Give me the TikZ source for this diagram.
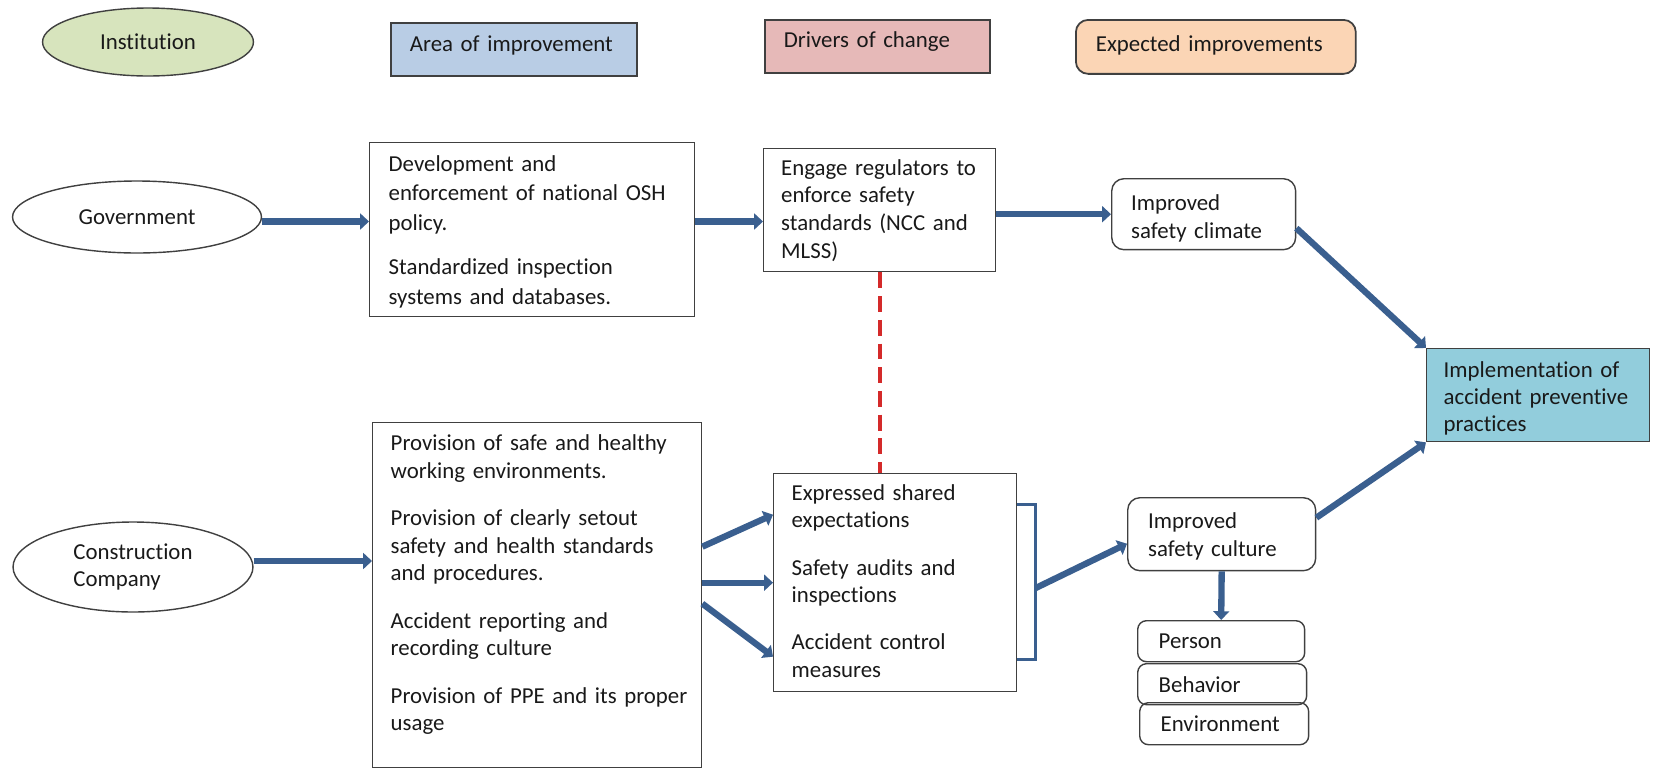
\documentclass[tikz,border=0pt]{standalone}
\usepackage{fontspec}
\setmainfont{Carlito}[Ligatures={NoCommon,NoRare}]
\usepackage{xcolor}
\usepackage{tikz}
\usetikzlibrary{shapes.geometric, arrows.meta, positioning, calc}

\definecolor{flowblue}{HTML}{3A5F8F}
\definecolor{boxline}{HTML}{404040}
\definecolor{instgreen}{HTML}{D7E4BD}
\definecolor{areablue}{HTML}{B9CDE5}
\definecolor{driverpink}{HTML}{E6B9B8}
\definecolor{expectpeach}{HTML}{FBD5B5}
\definecolor{implcyan}{HTML}{92CDDC}
\definecolor{linkred}{HTML}{D42A2A}

\begin{document}
\begin{tikzpicture}[
    x=0.02cm, y=-0.02cm,
    every node/.style={font=\fontsize{13}{15.6}\selectfont, text=black!90},
    inst/.style={ellipse, draw=boxline, line width=0.8pt, inner sep=0pt, align=left},
    box/.style={rectangle, draw=boxline, line width=0.8pt, anchor=north west, align=left, inner ysep=0pt},
    softbox/.style={box, rounded corners=7pt},
    flow/.style={draw=flowblue, line width=3.6pt, -{Triangle[length=5pt,width=9pt]}},
    bracket/.style={draw=flowblue, line width=2pt}
]
\useasboundingbox (0,0) rectangle (1654,768);

% legend
\node[inst, fill=instgreen, minimum width=4.22cm, minimum height=1.36cm] (institution) at (148,42) {Institution};
\node[box, fill=areablue, line width=1pt, inner xsep=0.38cm, text width=4.16cm, text height=0.58cm, text depth=0.48cm] (area) at (390,22) {Area of improvement};
\node[box, fill=driverpink, line width=1pt, inner xsep=0.38cm, text width=3.74cm, text height=0.55cm, text depth=0.51cm] (drivers) at (764,19) {Drivers of change};
\node[softbox, fill=expectpeach, line width=1pt, inner xsep=0.4cm, text width=4.8cm, text height=0.64cm, text depth=0.44cm] (expected) at (1075,19) {Expected improvements};

% government row
\node[inst, minimum width=4.98cm, minimum height=1.44cm] (gov) at (137,217) {Government};
\node[box, inner xsep=0.38cm, text width=5.74cm, text height=0.57cm, text depth=2.91cm, font=\fontsize{13}{16.8}\selectfont] (dev) at (369,142) {Development and\\ enforcement of national OSH\\ policy.\\[8.5pt] Standardized inspection\\ systems and databases.};
\node[box, inner xsep=0.35cm, text width=3.94cm, text height=0.53cm, text depth=1.93cm, font=\fontsize{13}{15.8}\selectfont] (eng) at (763,148) {Engage regulators to\\ enforce safety\\ standards (NCC and\\ MLSS)};
\node[softbox, inner xsep=0.39cm, text width=2.9cm, text height=0.63cm, text depth=0.79cm, font=\fontsize{13}{16.2}\selectfont] (clim) at (1111,178) {Improved\\ safety climate};
\node[box, fill=implcyan, inner xsep=0.34cm, text width=3.78cm, text height=0.58cm, text depth=1.28cm, font=\fontsize{13}{15.4}\selectfont] (impl) at (1426,348) {Implementation of\\ accident preventive\\ practices};

% company row
\node[inst, minimum width=4.8cm, minimum height=1.8cm] (cc) at (133,567) {Construction\\ Company};
\node[box, inner xsep=0.36cm, text width=5.86cm, text height=0.56cm, text depth=6.34cm] (prov) at (372,422) {Provision of safe and healthy\\ working environments.\\[11.5pt] Provision of clearly setout\\ safety and health standards\\ and procedures.\\[11.5pt] Accident reporting and\\ recording culture\\[11.5pt] \mbox{Provision of PPE and its proper}\\ usage};
\node[box, inner xsep=0.36cm, text width=4.14cm, text height=0.53cm, text depth=3.83cm] (drv) at (773,473) {Expressed shared\\ expectations\\[11.4pt] Safety audits and\\ inspections\\[11.4pt] Accident control\\ measures};
\node[softbox, inner xsep=0.41cm, text width=2.94cm, text height=0.62cm, text depth=0.84cm] (cult) at (1127,497) {Improved\\ safety culture};
\node[softbox, rounded corners=5pt, inner xsep=0.42cm, text width=2.5cm, minimum height=0.82cm] (person) at (1137,620) {Person};
\node[softbox, rounded corners=5pt, inner xsep=0.42cm, text width=2.54cm, minimum height=0.82cm] (behav) at (1137,663) {Behavior};
\node[softbox, rounded corners=5pt, inner xsep=0.42cm, text width=2.54cm, minimum height=0.84cm] (envir) at (1139,702) {Environment};

% connectors
\coordinate (govout) at ([yshift=-0.09cm]gov.east);
\coordinate (ccout) at ([yshift=0.12cm]cc.east);
\draw[flow] (govout) -- (govout -| dev.west);
\draw[flow] (govout -| dev.east) -- (govout -| eng.west);
\draw[flow] (clim.west -| eng.east) -- (clim.west);
\draw[flow] ([yshift=-0.28cm]clim.east) -- (impl.north west);
\draw[flow] ([yshift=0.33cm]cult.east) -- (impl.south west);
\draw[flow] (ccout) -- (ccout -| prov.west);
\draw[flow] ([yshift=0.97cm]prov.east) -- ([yshift=1.36cm]drv.west);
\draw[flow] (drv.west -| prov.east) -- (drv.west);
\draw[flow] ([yshift=-0.17cm]prov.east) -- ([yshift=-1.48cm]drv.west);
\draw[flow] (cult.south) -- (person.north);

% bracket round the drivers
\coordinate (brtop) at ([yshift=1.56cm]drv.east);
\coordinate (brbot) at ([yshift=-1.54cm]drv.east);
\coordinate (brmid) at ([xshift=0.36cm,yshift=-0.11cm]drv.east);
\draw[bracket] (brtop) -- ++(18,0) |- (brbot);
\draw[flow] (brmid) -- ([yshift=-0.19cm]cult.west);

% link between the two drivers
\draw[linkred, line width=2.4pt, dash pattern=on 9pt off 4.5pt] (eng.south) -- (eng.south |- drv.north);
\end{tikzpicture}
\end{document}
